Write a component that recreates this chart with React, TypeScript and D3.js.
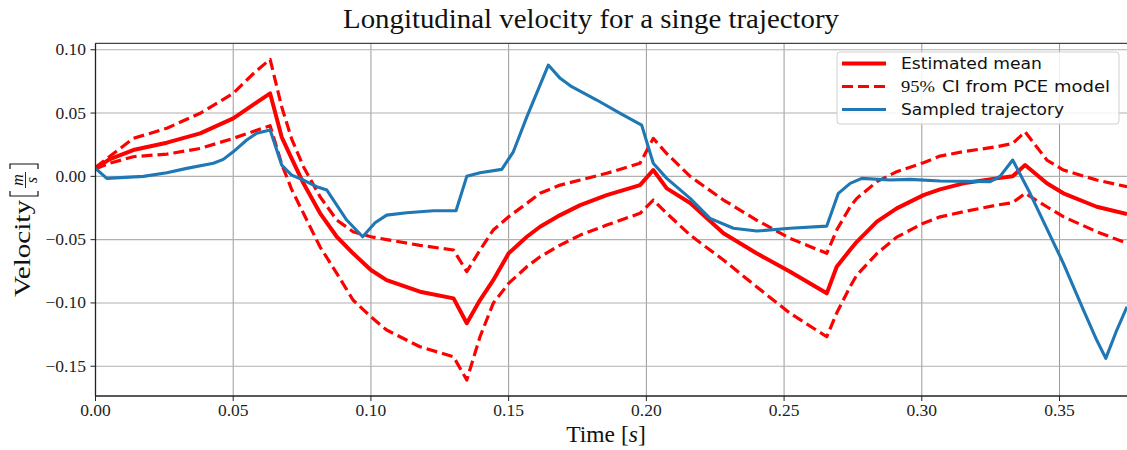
import React from 'react';
import * as d3 from 'd3';

// ---- data ----
const pceTime = [0, 0.005, 0.0137, 0.0259, 0.038, 0.05, 0.058, 0.0634, 0.0676, 0.0712, 0.0755, 0.0815, 0.0876, 0.0935, 0.1, 0.1057, 0.1178, 0.13, 0.1348, 0.1396, 0.1444, 0.15, 0.1566, 0.1614, 0.1687, 0.176, 0.1856, 0.1977, 0.2025, 0.2074, 0.2159, 0.228, 0.24, 0.2522, 0.2655, 0.2691, 0.274, 0.2764, 0.2837, 0.2909, 0.3006, 0.3066, 0.3151, 0.3272, 0.333, 0.3375, 0.3454, 0.3514, 0.3635, 0.3745];
const meanValues = [0.006, 0.0134, 0.0208, 0.0266, 0.034, 0.0458, 0.0577, 0.0655, 0.031, 0.0142, -0.0055, -0.029, -0.0477, -0.0608, -0.074, -0.082, -0.0911, -0.0964, -0.116, -0.0977, -0.082, -0.0608, -0.0477, -0.0398, -0.0306, -0.0227, -0.0148, -0.0069, 0.005, -0.0095, -0.021, -0.045, -0.0608, -0.0753, -0.0924, -0.0714, -0.058, -0.0517, -0.0358, -0.0253, -0.0148, -0.0103, -0.0055, -0.0016, 0.0, 0.0089, -0.0055, -0.0134, -0.024, -0.0298];
const upperValues = [0.007, 0.0155, 0.03, 0.038, 0.0498, 0.0656, 0.0826, 0.0924, 0.055, 0.0297, 0.0076, -0.016, -0.0345, -0.0437, -0.0477, -0.05, -0.0545, -0.0582, -0.0753, -0.0582, -0.0424, -0.0319, -0.0213, -0.0134, -0.0069, -0.0029, 0.0024, 0.0103, 0.03, 0.018, 0.0, -0.0187, -0.0345, -0.049, -0.0608, -0.0424, -0.024, -0.0174, -0.0042, 0.0037, 0.0108, 0.016, 0.0195, 0.0234, 0.026, 0.0352, 0.0129, 0.005, -0.0029, -0.0082];
const lowerValues = [0.006, 0.0103, 0.0155, 0.0176, 0.022, 0.03, 0.036, 0.04, 0.0097, -0.0103, -0.0292, -0.0556, -0.0766, -0.0977, -0.111, -0.1214, -0.1346, -0.1425, -0.1609, -0.1267, -0.1003, -0.0845, -0.0714, -0.0635, -0.0543, -0.0464, -0.0385, -0.0292, -0.0187, -0.0292, -0.0464, -0.0661, -0.0872, -0.1082, -0.1267, -0.108, -0.087, -0.078, -0.061, -0.048, -0.037, -0.032, -0.028, -0.0227, -0.0208, -0.0134, -0.024, -0.0319, -0.0437, -0.0529];

const sampleTime = [0, 0.0041, 0.0174, 0.0259, 0.0331, 0.0428, 0.0464, 0.05, 0.0549, 0.0585, 0.0634, 0.0676, 0.0712, 0.0755, 0.0803, 0.084, 0.0912, 0.097, 0.1015, 0.1057, 0.113, 0.1227, 0.1309, 0.1348, 0.1396, 0.1475, 0.1517, 0.1566, 0.1644, 0.1687, 0.1729, 0.182, 0.1905, 0.1983, 0.2025, 0.2074, 0.2159, 0.2231, 0.2316, 0.2401, 0.2522, 0.2655, 0.2697, 0.274, 0.2782, 0.2885, 0.2957, 0.3066, 0.3248, 0.3284, 0.333, 0.3393, 0.3514, 0.3587, 0.3635, 0.3668, 0.3708, 0.3745];
const sampleValues = [0.0063, -0.0016, 0.0, 0.0029, 0.0063, 0.0103, 0.0134, 0.0194, 0.0287, 0.034, 0.0366, 0.0089, 0.001, -0.0029, -0.0082, -0.0108, -0.0345, -0.0477, -0.0366, -0.0306, -0.0287, -0.0272, -0.0272, 0.0, 0.0029, 0.0055, 0.0194, 0.047, 0.0879, 0.0774, 0.0708, 0.0603, 0.0498, 0.0405, 0.0103, -0.0016, -0.0174, -0.0332, -0.041, -0.0432, -0.041, -0.0393, -0.0134, -0.0055, -0.0016, -0.0029, -0.0024, -0.0037, -0.0042, 0.0, 0.0129, -0.0134, -0.0687, -0.1056, -0.1293, -0.1438, -0.1214, -0.103];

const xTicks = [0, 0.05, 0.1, 0.15, 0.2, 0.25, 0.3, 0.35];
const yTicks = [-0.15, -0.1, -0.05, 0, 0.05, 0.1];

const legendLabels = ['Estimated mean', '95% CI from PCE model', 'Sampled trajectory'];

const SERIF = '"Liberation Serif", serif';
const SANS = '"DejaVu Sans", sans-serif';

export default function App() {
  const W = 1127;
  const H = 450;
  const left = 95.5, right = 1127, top = 43.3, bottom = 396;
  const x = d3.scaleLinear().domain([0, 0.3745]).range([left, right]);
  const y = d3.scaleLinear().domain([-0.1735, 0.1051]).range([bottom, top]);
  const fmt = (v: number) => d3.format('.2f')(v).replace('-', '\u2212');

  const pceLine = (vals: number[]) =>
    d3.line<number>().x((_, i) => x(pceTime[i])).y((d) => y(d))(vals) || '';
  const sampleLine =
    d3.line<number>().x((_, i) => x(sampleTime[i])).y((d) => y(d))(sampleValues) || '';

  const red = '#ff0000';
  const blue = '#1f77b4';

  // legend geometry
  const lgX = 837, lgY = 52, lgW = 282, lgH = 72;
  const rowY = [63.5, 86.5, 109.5];

  return (
    <svg width={W} height={H} style={{ position: 'absolute', left: 0, top: 0, background: '#fff' }}>
      <defs>
        <clipPath id="plot">
          <rect x={left} y={top} width={right - left} height={bottom - top} />
        </clipPath>
      </defs>
      <rect x={0} y={0} width={W} height={H} fill="#fff" />

      {/* title */}
      <text x={591} y={28} textAnchor="middle" fontFamily={SERIF} fontSize={26.5}
        textLength={496} lengthAdjust="spacingAndGlyphs" fill="#111">
        Longitudinal velocity for a singe trajectory
      </text>

      {/* grid */}
      <g>
        {xTicks.map((t) => (
          <line key={'gx' + t} x1={x(t)} x2={x(t)} y1={top} y2={bottom} stroke="#9a9a9a" strokeWidth={1} />
        ))}
        {yTicks.map((t) => (
          <line key={'gy' + t} x1={left} x2={right} y1={y(t)} y2={y(t)} stroke="#b0b0b0" strokeWidth={1.1} />
        ))}
      </g>

      {/* data */}
      <g clipPath="url(#plot)" fill="none" strokeLinejoin="round">
        <path d={pceLine(meanValues)} stroke={red} strokeWidth={4} />
        <path d={pceLine(upperValues)} stroke={red} strokeWidth={3.2} strokeDasharray="11,5" />
        <path d={pceLine(lowerValues)} stroke={red} strokeWidth={3.2} strokeDasharray="11,5" />
        <path d={sampleLine} stroke={blue} strokeWidth={3.1} />
      </g>

      {/* spines */}
      <line x1={left} x2={right} y1={top} y2={top} stroke="#444" strokeWidth={1.2} />
      <line x1={left} x2={left} y1={top} y2={bottom} stroke="#222" strokeWidth={1.3} />
      <line x1={left} x2={right} y1={bottom} y2={bottom} stroke="#222" strokeWidth={1.3} />

      {/* ticks */}
      {xTicks.map((t) => (
        <g key={'tx' + t}>
          <line x1={x(t)} x2={x(t)} y1={bottom} y2={bottom + 5} stroke="#222" strokeWidth={1} />
          <text x={x(t)} y={416} textAnchor="middle" fontFamily={SERIF} fontSize={17.5} fill="#222">
            {fmt(t)}
          </text>
        </g>
      ))}
      {yTicks.map((t) => (
        <g key={'ty' + t}>
          <line x1={left - 5} x2={left} y1={y(t)} y2={y(t)} stroke="#222" strokeWidth={1} />
          <text x={86} y={y(t) + 5.5} textAnchor="end" fontFamily={SERIF} fontSize={17.5} fill="#222">
            {fmt(t)}
          </text>
        </g>
      ))}

      {/* x label */}
      <text x={606} y={442} textAnchor="middle" fontFamily={SERIF} fontSize={23.5} fill="#111">
        Time [<tspan fontStyle="italic">s</tspan>]
      </text>

      {/* y label */}
      <g transform="translate(30, 297) rotate(-90)" fontFamily={SERIF} fill="#111">
        <text x={0} y={0} fontSize={23.5} textLength={97} lengthAdjust="spacingAndGlyphs">Velocity</text>
        <path d="M 106 -20 L 101 -20 L 101 8 L 106 8" fill="none" stroke="#111" strokeWidth={1.2} />
        <text x={117} y={-7} fontSize={16} fontStyle="italic" textAnchor="middle">m</text>
        <line x1={109} x2={125} y1={-4.5} y2={-4.5} stroke="#111" strokeWidth={0.9} />
        <text x={117} y={6.5} fontSize={16} fontStyle="italic" textAnchor="middle">s</text>
        <path d="M 128 -20 L 133 -20 L 133 8 L 128 8" fill="none" stroke="#111" strokeWidth={1.2} />
      </g>

      {/* legend */}
      <g>
        <rect x={lgX} y={lgY} width={lgW} height={lgH} rx={3} fill="#fff" fillOpacity={0.85} stroke="#d0d0d0" strokeWidth={1} />
        <line x1={842} x2={886} y1={rowY[0]} y2={rowY[0]} stroke={red} strokeWidth={4} />
        <line x1={842} x2={886} y1={rowY[1]} y2={rowY[1]} stroke={red} strokeWidth={3.2} strokeDasharray="11,5" />
        <line x1={842} x2={886} y1={rowY[2]} y2={rowY[2]} stroke={blue} strokeWidth={3.1} />
        <text x={901} y={rowY[0] + 5.5} fontFamily={SANS} fontSize={15} textLength={141} lengthAdjust="spacingAndGlyphs" fill="#111">
          {legendLabels[0]}
        </text>
        <text x={901} y={rowY[1] + 5.5} fontFamily={SERIF} fontSize={16.5} textLength={34} lengthAdjust="spacingAndGlyphs" fill="#111">
          {legendLabels[1].slice(0, 3)}
        </text>
        <text x={942} y={rowY[1] + 5.5} fontFamily={SANS} fontSize={15} textLength={168} lengthAdjust="spacingAndGlyphs" fill="#111">
          {legendLabels[1].slice(4)}
        </text>
        <text x={901} y={rowY[2] + 5.5} fontFamily={SANS} fontSize={15} textLength={163} lengthAdjust="spacingAndGlyphs" fill="#111">
          {legendLabels[2]}
        </text>
      </g>
    </svg>
  );
}
